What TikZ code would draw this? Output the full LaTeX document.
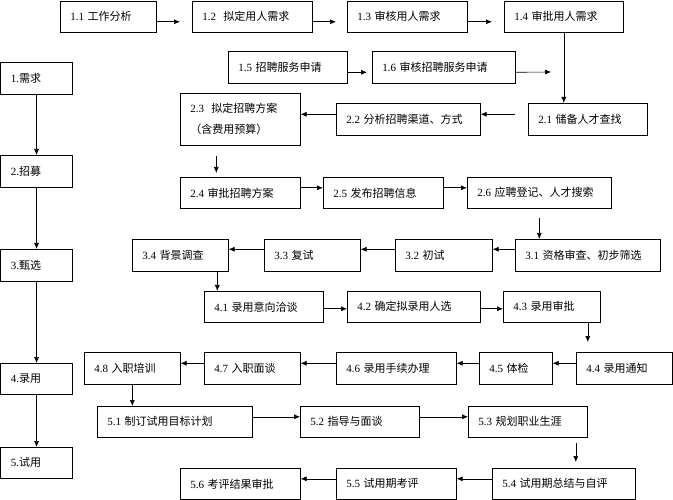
\documentclass[tikz,border=0pt]{standalone}
\usepackage{fontspec}
\setmainfont{Liberation Serif}
\newfontfamily\cjk{Noto Sans CJK SC}
\usetikzlibrary{arrows.meta}

\begin{document}
\begin{tikzpicture}[x=1pt, y=-1pt,
		box/.style={draw, line width=0.6pt, anchor=north west, align=left, inner xsep=10pt, inner ysep=0pt, minimum height=31pt, font=\fontsize{11}{14}\selectfont},
		arr/.style={line width=0.6pt, -{Latex[length=6pt, width=5pt]}}]
		\useasboundingbox (0, 0) rectangle (673, 500);
		% stages on the left
		\node [box, text width=51.5pt, minimum height=32pt] (s1) at (0.5, 62) {1.\cjk 需求};
		\node [box, text width=51.5pt, minimum height=32pt] (s2) at (0.5, 155) {2.\cjk 招募};
		\node [box, text width=51.5pt, minimum height=32pt] (s3) at (0.5, 249) {3.\cjk 甄选};
		\node [box, text width=51.5pt] (s4) at (0.5, 363) {4.\cjk 录用};
		\node [box, text width=51.5pt] (s5) at (0.5, 447) {5.\cjk 试用};
		\draw [arr] (s1) -- (s2);
		\draw [arr] (s2) -- (s3);
		\draw [arr] (s3) -- (s4);
		\draw [arr] (s4) -- (s5);
		% 1
		\node [box, text width=76pt] (n11) at (60, 1) {1.1 \cjk 工作分析};
		\node [box, text width=100pt] (n12) at (192, 1) {1.2\ \ \cjk 拟定用人需求};
		\node [box, text width=100pt] (n13) at (347, 1) {1.3 \cjk 审核用人需求};
		\node [box, text width=99pt] (n14) at (504, 1) {1.4 \cjk 审批用人需求};
		\node [box, text width=99pt, minimum height=32pt] (n15) at (228, 51) {1.5 \cjk 招聘服务申请};
		\node [box, text width=123pt, minimum height=32pt] (n16) at (372, 51) {1.6 \cjk 审核招聘服务申请};
		\coordinate (c16) at (551, 72);
		\draw [arr, shorten >=12pt] ([yshift=-5pt]n11.east) -- ([yshift=-5pt]n12.west);
		\draw [arr, shorten >=11pt] ([yshift=-5pt]n12.east) -- ([yshift=-5pt]n13.west);
		\draw [arr, shorten >=12pt] ([yshift=-5pt]n13.east) -- ([yshift=-5pt]n14.west);
		\draw [arr, shorten >=5pt] ([yshift=-5pt]n15.east) -- ([yshift=-5pt]n16.west);
		\draw [arr] ([yshift=-5pt]n16.east) -- (c16);
		% 2
		\node [box, text width=100pt, minimum height=52pt, font=\fontsize{11}{21}\selectfont] (n23) at (180, 93) {2.3\ \ {\cjk 拟定招聘方案}\\{\cjk （含费用预算）}};
		\node [box, text width=124pt, minimum height=32pt] (n22) at (336, 103) {2.2 \cjk 分析招聘渠道、方式};
		\node [box, text width=99pt, minimum height=32pt] (n21) at (528, 103) {2.1 \cjk 储备人才查找};
		\node [box, text width=100pt] (n24) at (180, 177) {2.4 \cjk 审批招聘方案};
		\node [box, text width=100pt] (n25) at (323, 177) {2.5 \cjk 发布招聘信息};
		\node [box, text width=124pt] (n26) at (467, 177) {2.6 \cjk 应聘登记、人才搜索};
		\draw [arr] (n14.south) -- (n14.south |- n21.north);
		\draw [arr, shorten <=13pt] ([yshift=5pt]n21.west) -- ([yshift=5pt]n22.east);
		\draw [arr] ([yshift=5pt]n22.west) -- ([yshift=5pt]n23.east);
		\draw [arr, shorten <=10pt, shorten >=4pt] ([xshift=-24pt]n23.south) -- ([xshift=-24pt]n23.south |- n24.north);
		\draw [arr] ([yshift=5pt]n24.east) -- ([yshift=5pt]n25.west);
		\draw [arr] ([yshift=5pt]n25.east) -- ([yshift=5pt]n26.west);
		% 3
		\node [box, text width=76pt, minimum height=32pt] (n34) at (132, 239) {3.4 \cjk 背景调查};
		\node [box, text width=76pt, minimum height=32pt] (n33) at (264, 239) {3.3 \cjk 复试};
		\node [box, text width=77pt, minimum height=32pt] (n32) at (395, 239) {3.2 \cjk 初试};
		\node [box, text width=125pt, minimum height=32pt] (n31) at (515, 239) {3.1 \cjk 资格审查、初步筛选};
		\draw [arr, shorten <=9pt] (n26.south) -- (n26.south |- n31.north);
		\draw [arr] ([yshift=6pt]n31.west) -- ([yshift=6pt]n32.east);
		\draw [arr] ([yshift=6pt]n32.west) -- ([yshift=6pt]n33.east);
		\draw [arr] ([yshift=6pt]n33.west) -- ([yshift=6pt]n34.east);
		% 4
		\node [box, text width=99pt] (n41) at (204, 291) {4.1 \cjk 录用意向洽谈};
		\node [box, text width=113pt] (n42) at (347, 291) {4.2 \cjk 确定拟录用人选};
		\node [box, text width=77pt] (n43) at (503, 291) {4.3 \cjk 录用审批};
		\node [box, text width=76pt, minimum height=32pt] (n44) at (576, 352) {4.4 \cjk 录用通知};
		\node [box, text width=53pt, minimum height=32pt] (n45) at (479, 352) {4.5 \cjk 体检};
		\node [box, text width=100pt, minimum height=32pt] (n46) at (336, 352) {4.6 \cjk 录用手续办理};
		\node [box, text width=76pt, minimum height=32pt] (n47) at (204, 352) {4.7 \cjk 入职面谈};
		\node [box, text width=76pt, minimum height=32pt] (n48) at (84, 352) {4.8 \cjk 入职培训};
		\draw [arr] ([xshift=37pt]n34.south) -- ([xshift=37pt]n34.south |- n41.north);
		\draw [arr] ([yshift=-2pt]n41.east) -- ([yshift=-2pt]n42.west);
		\draw [arr] ([yshift=-2pt]n42.east) -- ([yshift=-2pt]n43.west);
		\draw [arr, shorten >=10pt] ([xshift=36pt]n43.south) -- ([xshift=36pt]n43.south |- n44.north);
		\draw [arr] ([yshift=5pt]n44.west) -- ([yshift=5pt]n45.east);
		\draw [arr] ([yshift=5pt]n45.west) -- ([yshift=5pt]n46.east);
		\draw [arr] ([yshift=5pt]n46.west) -- ([yshift=5pt]n47.east);
		\draw [arr] ([yshift=5pt]n47.west) -- ([yshift=5pt]n48.east);
		% 5
		\node [box, text width=135pt] (n51) at (97, 406) {5.1 \cjk 制订试用目标计划};
		\node [box, text width=99pt] (n52) at (300, 406) {5.2 \cjk 指导与面谈};
		\node [box, text width=99pt] (n53) at (468, 406) {5.3 \cjk 规划职业生涯};
		\node [box, text width=123pt] (n54) at (492, 468) {5.4 \cjk 试用期总结与自评};
		\node [box, text width=100pt] (n55) at (336, 468) {5.5 \cjk 试用期考评};
		\node [box, text width=100pt] (n56) at (180, 468) {5.6 \cjk 考评结果审批};
		\draw [arr] (n48.south) -- (n48.south |- n51.north);
		\draw [arr] ([yshift=5pt]n51.east) -- ([yshift=5pt]n52.west);
		\draw [arr] ([yshift=5pt]n52.east) -- ([yshift=5pt]n53.west);
		\draw [arr, shorten <=5pt, shorten >=6pt] ([xshift=48pt]n53.south) -- ([xshift=48pt]n53.south |- n54.north);
		\draw [arr] ([yshift=5pt]n54.west) -- ([yshift=5pt]n55.east);
		\draw [arr] ([yshift=5pt]n55.west) -- ([yshift=5pt]n56.east);
	\end{tikzpicture}
\end{document}
